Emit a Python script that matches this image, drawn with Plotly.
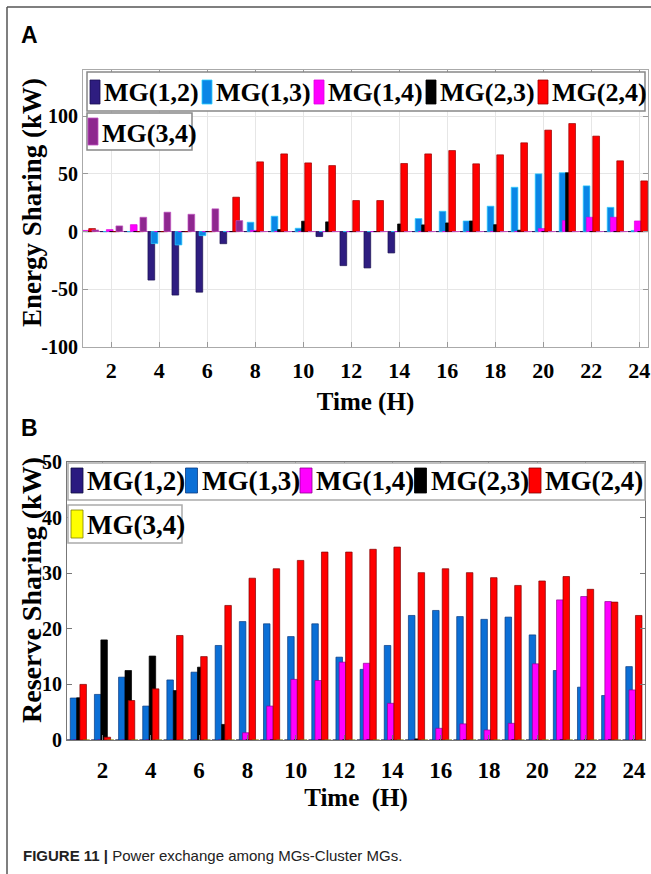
import plotly.graph_objects as go

# ---------------- data ----------------
hours = list(range(1, 25))
series_names = ["MG(1,2)", "MG(1,3)", "MG(1,4)", "MG(2,3)", "MG(2,4)", "MG(3,4)"]

# Panel A: energy sharing (kW)
energy_mg12 = [0, 0, 0, -42, -55, -52.5, -10.5, 0, 0, 0, -4.3, -29.5, -31.5, -18.5, 0, 0, 0, 0, 0, 0, 0, 0, 0, 0]
energy_mg13 = [0, 0, 0, -10.4, -11.6, -3.5, 0, 8.1, 13.3, 2.9, 0, 0, 0, 0, 11.3, 17.6, 9.2, 22, 38.4, 50, 51, 39.6, 21, 1]
energy_mg14 = [1, 1.7, 6, 0, 0, 0, 0, 1, 0, 0, 0, 0, 0, 0, 0, 0, 0, 0, 0, 2.6, 9.5, 12.4, 12.4, 9.2]
energy_mg23 = [0, 0, 0, 0, 0, 0, 0, 0, 1.7, 9, 8.4, 0, 0, 6.6, 5.8, 7.5, 9.2, 6, 1.2, 0, 51, 0, 0, 0]
energy_mg24 = [2.6, 0, 0, 0, 0, 0, 29.8, 60.4, 67.3, 59.5, 57.2, 26.9, 26.9, 59, 67.3, 70.2, 58.7, 66.5, 76.9, 87.9, 93.6, 82.7, 61.3, 43.9]
energy_mg34 = [1.4, 4.9, 12.4, 16.8, 15, 19.7, 9.5, 0, 0, 0, 0, 0, 0, 0, 0, 0, 0, 0, 0, 0, 0, 0, 0, 0]

# Panel B: reserve sharing (kW)
reserve_mg12 = [0] * 24
reserve_mg13 = [7.55, 8.2, 11.3, 6.1, 10.8, 12.2, 17.0, 21.3, 20.9, 18.6, 20.9, 14.9, 12.7, 17.0, 22.4, 23.3, 22.2, 21.7, 22.1, 18.9, 12.5, 9.5, 8.0, 13.2]
reserve_mg14 = [0, 0, 0, 0, 0, 0, 0, 1.3, 6.1, 10.9, 10.7, 14.0, 13.8, 6.6, 0, 2.1, 2.9, 1.8, 3.0, 13.7, 25.2, 25.8, 24.9, 9.0]
reserve_mg23 = [7.6, 18.0, 12.5, 15.1, 8.9, 13.1, 2.8, 0, 0, 0, 0, 0, 0, 0, 0.2, 0, 0, 0, 0, 0, 0, 0, 0, 0]
reserve_mg24 = [10.0, 0.5, 7.1, 9.2, 18.8, 15.0, 24.2, 29.1, 30.8, 32.3, 33.8, 33.8, 34.3, 34.7, 30.1, 30.8, 30.1, 29.2, 27.8, 28.6, 29.4, 27.1, 24.8, 22.4]
reserve_mg34 = [0] * 24

x_tick_vals = [2, 4, 6, 8, 10, 12, 14, 16, 18, 20, 22, 24]
x_tick_text = ["2", "4", "6", "8", "10", "12", "14", "16", "18", "20", "22", "24"]
yA_tick_vals = [-100, -50, 0, 50, 100]
yA_tick_text = ["-100", "-50", "0", "50", "100"]
yB_tick_vals = [0, 10, 20, 30, 40, 50]
yB_tick_text = ["0", "10", "20", "30", "40", "50"]

colors_A = ["#2e1d80", "#0a86e6", "#ff00ff", "#000000", "#ff0000", "#8e278f"]
edges_A = ["#1a1050", "#2ad0ff", "#e000e0", "#000000", "#9a0000", "#c050c0"]
colors_B = ["#2a1a80", "#0b6fd6", "#ff00ff", "#000000", "#ff0000", "#ffff00"]
edges_B = ["#101040", "#0a3a80", "#900090", "#000000", "#800000", "#808000"]

energy = [energy_mg12, energy_mg13, energy_mg14, energy_mg23, energy_mg24, energy_mg34]
reserve = [reserve_mg12, reserve_mg13, reserve_mg14, reserve_mg23, reserve_mg24, reserve_mg34]

# ---------------- layout helpers ----------------
W, H = 651, 874
def px(x):
    return x / W
def py(y):
    return 1 - y / H

SERIF = "Liberation Serif"
SANS = "Liberation Sans"

n = len(series_names)
group_w = 0.8
offsets = [-group_w / 2 + group_w / (2 * n) + i * group_w / n for i in range(n)]

fig = go.Figure()

def add_bars(data, colors, edges, bw, xa, ya):
    for i, vals in enumerate(data):
        fig.add_trace(go.Bar(
            x=hours, y=vals, name=series_names[i],
            width=bw, offset=offsets[i] - bw / 2,
            marker=dict(color=colors[i], line=dict(color=edges[i], width=0.7)),
            xaxis=xa, yaxis=ya, showlegend=False,
        ))

add_bars(energy, colors_A, edges_A, 0.28, "x", "y")
add_bars(reserve, colors_B, edges_B, 0.27, "x2", "y2")

tickfont_x = dict(family=SERIF, size=22, color="black", weight="bold")
tickfont_y = dict(family=SERIF, size=20, color="black", weight="bold")
xtitlefont = dict(family=SERIF, size=25, color="black", weight="bold")

fig.update_layout(
    width=W, height=H,
    margin=dict(l=0, r=0, t=0, b=0, pad=0, autoexpand=False),
    paper_bgcolor="white", plot_bgcolor="white",
    barmode="overlay",
    xaxis=dict(domain=[px(83), px(648)], range=[0.82, 24.36], anchor="y", automargin=False,
               tickmode="array", tickvals=x_tick_vals, ticktext=x_tick_text,
               tickfont=tickfont_x, ticks="inside", ticklen=5, tickcolor="#999",
               showgrid=True, gridcolor="#e6e6e6", gridwidth=1,
               showline=True, linecolor="#aaa", linewidth=1, mirror="ticks",
               zeroline=False, ticklabelstandoff=4,
               title=dict(text="Time (H)", font=xtitlefont, standoff=10)),
    yaxis=dict(domain=[py(347), py(70)], range=[-100, 140], anchor="x", automargin=False,
               tickmode="array", tickvals=yA_tick_vals, ticktext=yA_tick_text,
               tickfont=tickfont_y, ticks="inside", ticklen=5, tickcolor="#999",
               showgrid=True, gridcolor="#e6e6e6", gridwidth=1,
               showline=True, linecolor="#aaa", linewidth=1, mirror="ticks",
               zeroline=True, zerolinecolor="#c060c0", zerolinewidth=1),
    xaxis2=dict(domain=[px(67), px(645)], range=[0.53, 24.46], anchor="y2", automargin=False,
                tickmode="array", tickvals=x_tick_vals, ticktext=x_tick_text,
                tickfont=dict(family=SERIF, size=23, color="black", weight="bold"),
                ticks="inside", ticklen=5, tickcolor="#777",
                showgrid=False, ticklabelstandoff=9,
                showline=True, linecolor="#777", linewidth=1, mirror="ticks",
                zeroline=False,
                title=dict(text="Time  (H)", font=xtitlefont, standoff=6)),
    yaxis2=dict(domain=[py(740), py(462)], range=[0, 50], anchor="x2", automargin=False,
                tickmode="array", tickvals=yB_tick_vals, ticktext=yB_tick_text,
                tickfont=tickfont_y, ticks="inside", ticklen=5, tickcolor="#777",
                showgrid=False,
                showline=True, linecolor="#777", linewidth=1, mirror="ticks",
                zeroline=False),
)

shapes = []
annotations = []

# page frame
shapes.append(dict(type="line", xref="paper", yref="paper", x0=px(7), x1=1, y0=py(7), y1=py(7),
                   line=dict(color="#555", width=1.5)))
shapes.append(dict(type="line", xref="paper", yref="paper", x0=px(7), x1=px(7), y0=py(7), y1=0,
                   line=dict(color="#555", width=1.5)))

def legend(colors, edges, box1, box2, row1_x0, pitch, sw_w, sw1_y, txt1_y, sw2, txt2_y, fsize, border):
    for (x0, y0, x1, y1) in (box1, box2):
        shapes.append(dict(type="rect", xref="paper", yref="paper", layer="above",
                           x0=px(x0), x1=px(x1), y0=py(y1), y1=py(y0),
                           fillcolor="white", line=dict(color=border, width=1.5)))
    for i in range(5):
        sx = row1_x0 + i * pitch
        shapes.append(dict(type="rect", xref="paper", yref="paper", layer="above",
                           x0=px(sx), x1=px(sx + sw_w), y0=py(sw1_y[1]), y1=py(sw1_y[0]),
                           fillcolor=colors[i], line=dict(color=edges[i], width=0.8)))
        annotations.append(dict(xref="paper", yref="paper", x=px(sx + sw_w + 2), y=py(txt1_y),
                                xanchor="left", yanchor="middle", showarrow=False,
                                text=series_names[i],
                                font=dict(family=SERIF, size=fsize, color="black", weight="bold")))
    sx, sy0, sy1 = sw2
    shapes.append(dict(type="rect", xref="paper", yref="paper", layer="above",
                       x0=px(sx), x1=px(sx + sw_w), y0=py(sy1), y1=py(sy0),
                       fillcolor=colors[5], line=dict(color=edges[5], width=0.8)))
    annotations.append(dict(xref="paper", yref="paper", x=px(sx + sw_w + 2), y=py(txt2_y),
                            xanchor="left", yanchor="middle", showarrow=False,
                            text=series_names[5],
                            font=dict(family=SERIF, size=fsize, color="black", weight="bold")))

legend(colors_A, edges_A, (87, 72, 645, 111), (87, 113, 192, 150), 90, 112, 10, (80, 104), 92,
       (88, 118, 145), 133, 26, "#888")
legend(colors_B, edges_B, (68, 463, 645, 500), (68, 505, 182, 543), 71, 114.5, 12, (468, 493), 481,
       (71, 510, 538), 525, 27, "#aaa")

# y-axis titles (placed close to the tick labels, as in the original)
annotations.append(dict(xref="paper", yref="paper", x=px(32), y=py(203), xanchor="center", yanchor="middle",
                        textangle=-90, showarrow=False, text="Energy Sharing (kW)",
                        font=dict(family=SERIF, size=27, color="black", weight="bold")))
annotations.append(dict(xref="paper", yref="paper", x=px(31), y=py(590), xanchor="center", yanchor="middle",
                        textangle=-90, showarrow=False, text="Reserve Sharing (kW)",
                        font=dict(family=SERIF, size=28, color="black", weight="bold")))

# panel letters
annotations.append(dict(xref="paper", yref="paper", x=px(19), y=py(35), xanchor="left", yanchor="middle",
                        showarrow=False, text="<b>A</b>", font=dict(family=SANS, size=23, color="black")))
annotations.append(dict(xref="paper", yref="paper", x=px(19), y=py(428), xanchor="left", yanchor="middle",
                        showarrow=False, text="<b>B</b>", font=dict(family=SANS, size=23, color="black")))
# caption
annotations.append(dict(xref="paper", yref="paper", x=px(21), y=py(855), xanchor="left", yanchor="middle",
                        showarrow=False,
                        text="<b>FIGURE 11 |</b> Power exchange among MGs-Cluster MGs.",
                        font=dict(family=SANS, size=15, color="#222")))

fig.update_layout(shapes=shapes, annotations=annotations)
fig.write_html("out.html",
               post_script="document.body.style.margin='0';document.body.style.overflow='hidden';")
